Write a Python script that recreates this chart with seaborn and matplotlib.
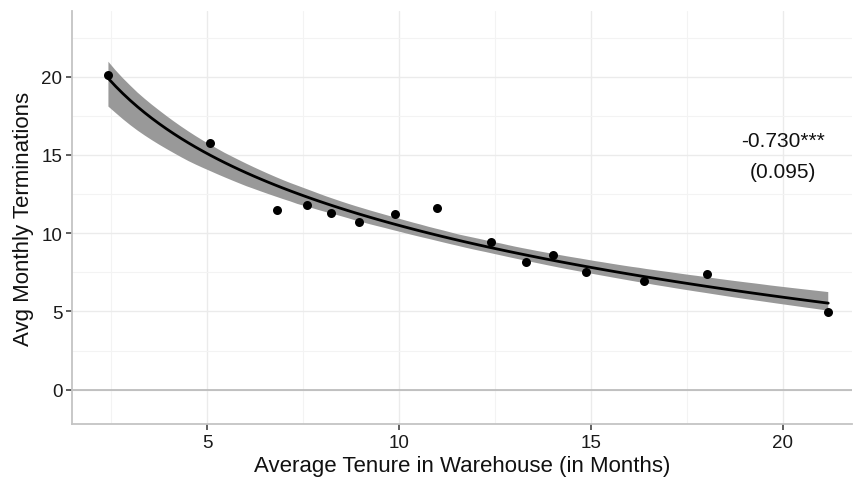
import numpy as np
import pandas as pd
import matplotlib
matplotlib.use("Agg")
import matplotlib.pyplot as plt
import seaborn as sns
from matplotlib.collections import PolyCollection
from matplotlib.ticker import MultipleLocator

# Warehouse-level averages
tenure_months = [2.42, 5.07, 6.82, 7.59, 8.22, 8.95, 9.89, 10.99,
                 12.39, 13.30, 14.00, 14.88, 16.38, 18.03, 21.19]
monthly_terminations = [20.11, 15.76, 11.50, 11.80, 11.27, 10.70, 11.21, 11.59,
                        9.42, 8.14, 8.61, 7.54, 6.93, 7.39, 4.95]

coef_label = "-0.730***"
se_label = "(0.095)"

df = pd.DataFrame({"tenure": tenure_months, "terminations": monthly_terminations})

sns.set_style("whitegrid")
plt.rcParams["font.family"] = ["Liberation Sans", "DejaVu Sans"]

fig = plt.figure(figsize=(8.54, 4.81), dpi=100)
ax = fig.add_axes([0.0843, 0.1164, 0.9134, 0.8586])

ax.axhline(0, color="#b3b3b3", lw=1.1, zorder=1)

sns.regplot(data=df, x="tenure", y="terminations", logx=True, ci=95, seed=3,
            ax=ax, color="black",
            scatter_kws=dict(s=42, color="black", alpha=1, linewidths=0, zorder=4),
            line_kws=dict(color="black", lw=2.0, zorder=3))

# solid grey confidence ribbon
for coll in ax.collections:
    if isinstance(coll, PolyCollection):
        coll.set_facecolor("#999999")
        coll.set_alpha(1)
        coll.set_edgecolor("none")
        coll.set_zorder(2)

ax.text(20.0, 15.95, coef_label, ha="center", va="center", fontsize=15, color="#111111")
ax.text(20.0, 13.93, se_label, ha="center", va="center", fontsize=15, color="#111111")

ax.set_xlim(1.47, 21.81)
ax.set_ylim(-2.19, 24.2)
ax.xaxis.set_major_locator(MultipleLocator(5))
ax.yaxis.set_major_locator(MultipleLocator(5))
ax.xaxis.set_minor_locator(MultipleLocator(2.5))
ax.yaxis.set_minor_locator(MultipleLocator(2.5))

ax.grid(which="major", color="#ebebeb", lw=1.0)
ax.grid(which="minor", color="#f3f3f3", lw=0.8)
ax.set_axisbelow(True)

for side in ["top", "right"]:
    ax.spines[side].set_visible(False)
for side in ["left", "bottom"]:
    ax.spines[side].set_visible(True)
    ax.spines[side].set_color("#c4c4c4")
    ax.spines[side].set_linewidth(1.3)

ax.tick_params(axis="both", which="major", length=4, width=1.1, color="#333333",
               labelsize=13.5, labelcolor="#1a1a1a", pad=3, left=True, bottom=True)
ax.tick_params(axis="both", which="minor", length=0)

ax.set_xlabel("Average Tenure in Warehouse (in Months)", fontsize=16, color="#111111", labelpad=3)
ax.set_ylabel("Avg Monthly Terminations", fontsize=16, color="#111111", labelpad=5)

fig.savefig("out.png", dpi=100)
